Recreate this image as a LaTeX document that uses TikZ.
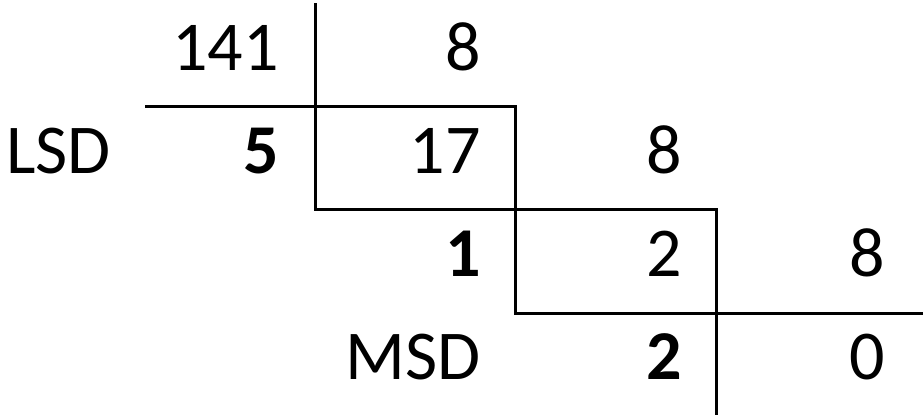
\documentclass[tikz,border=0pt]{standalone}
\usepackage{fontspec}
\setmainfont{Carlito}
\usetikzlibrary{positioning}

\begin{document}
\begin{tikzpicture}[
  x=1pt,y=-1pt,
  dig/.style={inner sep=0pt,anchor=base east,font=\fontsize{70}{84}\selectfont},
  lbl/.style={dig,anchor=base west},
  bar/.style={line width=3pt}
]
  \useasboundingbox (0,0) rectangle (923,415);
  % Row 1: 141 / 8
  \node[dig] (n141) at (279,70) {141};
  \node[dig] (q1) at (481,70) {8};
  % Row 2: remainder 5, quotient 17
  \node[lbl] (lsd) at (6,173) {LSD};
  \node[dig] (r1) at (279,173) {\textbf{5}};
  \node[dig] (n17) at (481,173) {17};
  \node[dig] (q2) at (682,173) {8};
  % Row 3: remainder 1, quotient 2
  \node[dig] (r2) at (481,276) {\textbf{1}};
  \node[dig] (n2) at (682,276) {2};
  \node[dig] (q3) at (885,276) {8};
  % Row 4: remainder 2, quotient 0
  \node[dig] (msd) at (481,379) {MSD};
  \node[dig] (r3) at (682,379) {\textbf{2}};
  \node[dig] (n0) at (885,379) {0};
  % Division bars
  \draw[bar] (315,3) -- (315,209) -- (716,209) -- (716,415);
  \draw[bar] (145,106) -- (515,106) -- (515,313) -- (923,313);
\end{tikzpicture}
\end{document}
